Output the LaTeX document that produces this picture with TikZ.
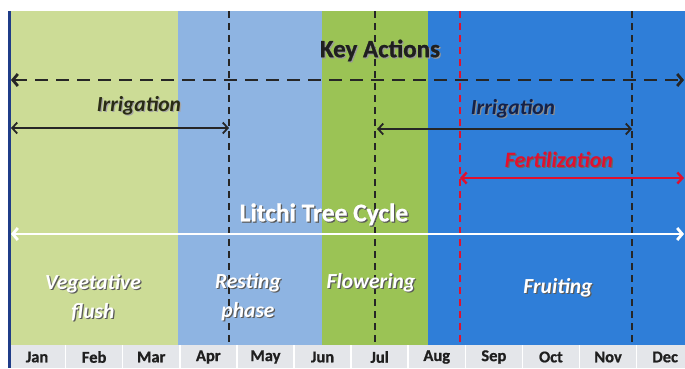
\documentclass[tikz,border=0pt]{standalone}
\usepackage{fontspec}
\setmainfont{Carlito}[BoldFeatures={FakeBold=0.8}]
\usetikzlibrary{arrows.meta}
\definecolor{lgreen}{HTML}{CCDC96}
\definecolor{lblue}{HTML}{8EB4E2}
\definecolor{mgreen}{HTML}{9BC355}
\definecolor{dblue}{HTML}{2F7ED8}
\definecolor{barbg}{HTML}{E4E6EA}
\definecolor{navyline}{HTML}{1F3C88}
\definecolor{darkline}{HTML}{262626}
\definecolor{fertred}{HTML}{E0102F}
\definecolor{shadowc}{HTML}{5A5A5A}
\definecolor{irrA}{HTML}{2A2C14}
\definecolor{irrB}{HTML}{14224A}
\newcommand\shd[2]{\rlap{\kern1.2pt\raisebox{-1.2pt}{\textcolor{#1}{#2}}}#2}
\tikzset{
  vdash/.style={line width=1.8pt, dash pattern=on 7pt off 5pt},
  hdash/.style={line width=2.8pt, darkline, dash pattern=on 13pt off 8pt, {Straight Barb[length=5pt,width=12pt]}-{Straight Barb[length=5pt,width=12pt]}},
  irrarrow/.style={line width=1.8pt, darkline, {Straight Barb[length=5pt,width=11pt]}-{Straight Barb[length=5pt,width=11pt]}},
  fertarrow/.style={line width=2.4pt, fertred, {Straight Barb[length=5pt,width=11pt]}-{Straight Barb[length=5pt,width=11pt]}},
  cyclearrow/.style={line width=2.8pt, white, {Straight Barb[length=5pt,width=12pt]}-{Straight Barb[length=5pt,width=12pt]}},
  stagetxt/.style={font=\bfseries\itshape\fontsize{21.5}{29}\selectfont, text=white, align=center, inner sep=0pt},
  acttxt/.style={font=\bfseries\itshape\fontsize{21.5}{24}\selectfont, inner sep=0pt},
  monthtxt/.style={font=\bfseries\fontsize{16.5}{18}\selectfont, text=black!88, inner sep=0pt},
}
\begin{document}
\begin{tikzpicture}[x=1pt,y=-1pt]
\useasboundingbox (0,0) rectangle (685,368);
\fill[white] (0,0) rectangle (685,368);
% background bands
\fill[lgreen] (10,11) rectangle (178,345);
\fill[lblue] (178,11) rectangle (322,345);
\fill[mgreen] (322,11) rectangle (428,345);
\fill[dblue] (428,11) rectangle (685,345);
% month bar
\fill[barbg] (10,345) rectangle (685,368);
\foreach \i/\m in {1/Jan,2/Feb,3/Mar,4/Apr,5/May,6/Jun,7/Jul,8/Aug,9/Sep,10/Oct,11/Nov,12/Dec}{
  \node[monthtxt] (m\i) at ({8.5+57.1*(\i-0.5)},357) {\m};
}
\foreach \i in {1,...,11}{
  \draw[white, line width=1.5pt] ({8.5+57.1*\i},345) -- ({8.5+57.1*\i},368);
}
% left navy line
\fill[navyline] (8,11) rectangle (11,368);
% vertical dashed lines
\coordinate (va1) at (229,11); \coordinate (va2) at (229,345);
\coordinate (vb1) at (375,11); \coordinate (vb2) at (375,345);
\coordinate (vc1) at (460,11); \coordinate (vc2) at (460,345);
\coordinate (vd1) at (632,11); \coordinate (vd2) at (632,345);
\draw[vdash, darkline] (va1) -- (va2);
\draw[vdash, darkline] (vb1) -- (vb2);
\draw[vdash, fertred] (vc1) -- (vc2);
\draw[vdash, darkline] (vd1) -- (vd2);
% key actions
\node[font=\bfseries\fontsize{25}{28}\selectfont, text=black!88, inner sep=0pt] (key) at (380,51) {\shd{black!40}{Key Actions}};
\coordinate (kl) at (11,80); \coordinate (kr) at (684,80);
\draw[hdash] (kl) -- (kr);
% irrigation 1
\node[acttxt, text=irrA] (irr1) at (139,106) {\shd{black!35}{Irrigation}};
\coordinate (i1l) at (11,128); \coordinate (i1r) at (229,128);
\draw[irrarrow] (i1l) -- (i1r);
% irrigation 2
\node[acttxt, text=irrB] (irr2) at (513,109) {\shd{black!45}{Irrigation}};
\coordinate (i2l) at (377,129); \coordinate (i2r) at (632,129);
\draw[irrarrow] (i2l) -- (i2r);
% fertilization
\node[acttxt, text=fertred, font=\bfseries\itshape\fontsize{22}{24}\selectfont] (fert) at (559,160) {\shd{black!60}{Fertilization}};
\coordinate (fl) at (460,178); \coordinate (fr) at (684,178);
\draw[fertarrow] (fl) -- (fr);
% litchi tree cycle
\node[font=\bfseries\fontsize{25.5}{28}\selectfont, text=white, inner sep=0pt] (cyc) at (324,215) {\shd{shadowc}{Litchi Tree Cycle}};
\coordinate (cl) at (11,234); \coordinate (cr) at (684,234);
\draw[cyclearrow] (cl) -- (cr);
% stages
\node[stagetxt] (veg) at (93,298) {\shd{shadowc}{Vegetative}\\\shd{shadowc}{flush}};
\node[stagetxt] (rest) at (248,298) {\shd{shadowc}{Resting}\\\shd{shadowc}{phase}};
\node[stagetxt] (flow) at (371,283) {\shd{shadowc}{Flowering}};
\node[stagetxt] (fruit) at (558,288) {\shd{shadowc}{Fruiting}};
\end{tikzpicture}
\end{document}
